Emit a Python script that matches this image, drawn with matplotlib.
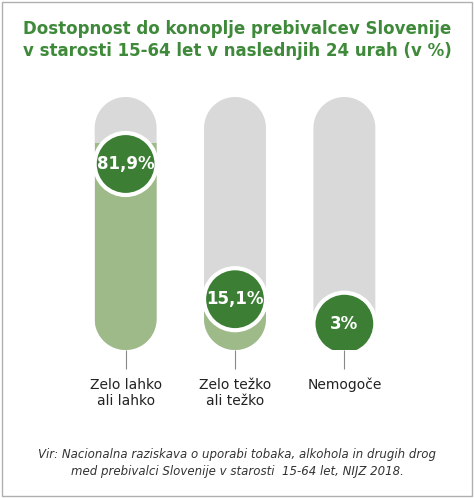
import matplotlib
matplotlib.use("Agg")
import numpy as np
import matplotlib.pyplot as plt
from matplotlib.patches import PathPatch, Ellipse, Rectangle
from matplotlib.path import Path

categories = ["Zelo lahko\nali lahko", "Zelo težko\nali težko", "Nemogoče"]
values = [81.9, 15.1, 3.0]
labels = ["81,9%", "15,1%", "3%"]

W, H = 474, 498
fig = plt.figure(figsize=(W/100, H/100), dpi=100)
fig.patches.append(Rectangle((2/W, 2/H), 1-4/W, 1-4/H, transform=fig.transFigure,
                             fill=False, edgecolor="#b0b0b0", lw=1))

spacing = 109.5
ax = fig.add_axes([60/W, (H-350)/H, 350/W, 253/H])
ax.set_xlim(-0.6, 2.6)
ax.set_ylim(0, 100)
ypp = 100/253
xpp = 1/spacing
rx = 31*xpp
ry = 31*ypp

def capsule(xc):
    t1 = np.linspace(0, np.pi, 40)
    t2 = np.linspace(np.pi, 2*np.pi, 40)
    top = np.column_stack([xc + rx*np.cos(t1), 100 - ry + ry*np.sin(t1)])
    bot = np.column_stack([xc + rx*np.cos(t2), ry + ry*np.sin(t2)])
    pts = np.vstack([top, bot, top[:1]])
    return Path(pts, closed=True)

for i, v in enumerate(values):
    bg = PathPatch(capsule(i), fc="#d9d9d9", ec="none")
    ax.add_patch(bg)
    bars = ax.bar([i], [v], width=2*rx, color="#9dba88", zorder=2)
    for b in bars:
        b.set_clip_path(bg)
    cy = v*0.8 + 8
    ax.add_patch(Ellipse((i, cy), 62*xpp, 62*ypp, fc="#3c7f34", ec="white", lw=3, zorder=3))
    ax.text(i, cy, labels[i], ha="center", va="center", color="white",
            fontsize=12, fontweight="bold", zorder=4)

for s in ax.spines.values():
    s.set_visible(False)
ax.set_yticks([])
ax.set_xticks(range(len(categories)))
ax.set_xticklabels(categories, fontsize=10, color="#222222")
ax.tick_params(axis="x", length=14, color="#888888", pad=6)

fig.text(0.5, 1-40/H, "Dostopnost do konoplje prebivalcev Slovenije\nv starosti 15-64 let v naslednjih 24 urah (v %)",
         ha="center", va="center", color="#3f8a3a", fontsize=12, fontweight="bold", linespacing=1.35)
fig.text(0.5, 1-463/H, "Vir: Nacionalna raziskava o uporabi tobaka, alkohola in drugih drog\nmed prebivalci Slovenije v starosti  15-64 let, NIJZ 2018.",
         ha="center", va="center", color="#333333", fontsize=8.5, style="italic", linespacing=1.4)

fig.savefig("out.png", dpi=100)
